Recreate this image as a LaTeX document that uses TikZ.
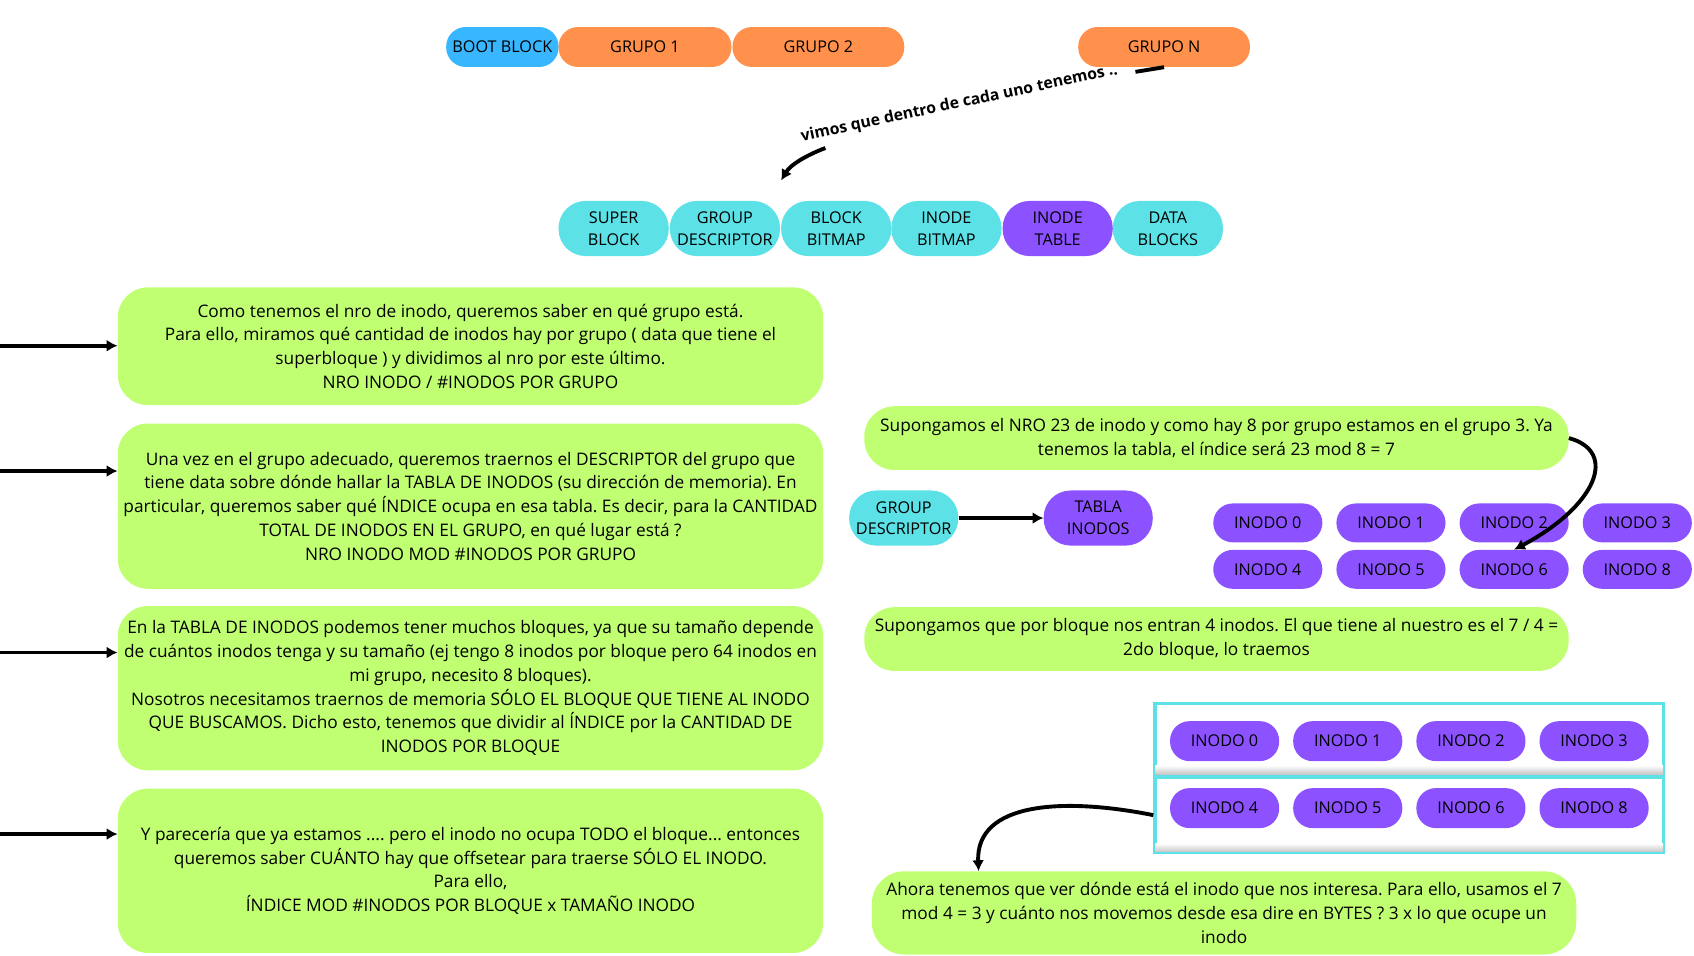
\documentclass[tikz,border=0pt]{standalone}
\usepackage{fontspec}
\setmainfont{Open Sans}
\usepackage{tikz}
\usetikzlibrary{arrows.meta}
\frenchspacing

\definecolor{BootBlue}{HTML}{38B6FF}
\definecolor{GrupoOrange}{HTML}{FF914D}
\definecolor{BlockCyan}{HTML}{5CE1E6}
\definecolor{InodePurple}{HTML}{8C52FF}
\definecolor{NoteGreen}{HTML}{C1FF72}

\newcommand{\pillfont}{\fontsize{15}{20}\selectfont}
\newcommand{\notefont}{\fontsize{16}{22}\selectfont}

\tikzset{
    pill/.style={rounded corners=18pt, minimum height=37pt, inner sep=0pt, align=center, font=\pillfont},
    tallpill/.style={rounded corners=25pt, minimum width=102pt, minimum height=51pt, inner sep=0pt, align=center, font=\pillfont},
    inodo/.style={pill, fill=InodePurple, minimum width=101pt},
    note/.style={fill=NoteGreen, rounded corners=28pt, minimum width=653pt, inner sep=0pt, align=center, font=\notefont},
    flow/.style={-{Latex[length=10pt, width=11pt]}, line width=3.6pt},
    blockrow/.style={draw=BlockCyan, line width=3pt, minimum width=471pt, inner sep=0pt},
}

\begin{document}
\begin{tikzpicture}[x=1pt, y=-1pt]
        \useasboundingbox (0, 0) rectangle (1568, 884);

        \node[pill, fill=BootBlue, minimum width=104pt] (boot) at (465, 43.5) {BOOT BLOCK};
        \node[pill, fill=GrupoOrange, minimum width=160pt] (g1) at (597, 43.5) {GRUPO 1};
        \node[pill, fill=GrupoOrange, minimum width=159pt] (g2) at (757.5, 43.5) {GRUPO 2};
        \node[pill, fill=GrupoOrange, minimum width=159pt] (gn) at (1077.5, 43.5) {GRUPO N};

        \node[tallpill, fill=BlockCyan] (sb) at (568, 211.5) {SUPER\\BLOCK};
        \node[tallpill, fill=BlockCyan] (gd) at (671, 211.5) {GROUP\\DESCRIPTOR};
        \node[tallpill, fill=BlockCyan] (bb) at (774, 211.5) {BLOCK\\BITMAP};
        \node[tallpill, fill=BlockCyan] (ib) at (876, 211.5) {INODE\\BITMAP};
        \node[tallpill, fill=InodePurple] (it) at (979, 211.5) {INODE\\TABLE};
        \node[tallpill, fill=BlockCyan] (db) at (1081, 211.5) {DATA\\BLOCKS};

        \coordinate (vimosA) at (1051, 66.5);
        \coordinate (vimosB) at (764, 137);
        \coordinate (vimosC) at (723, 167);
        \draw[line width=3.6pt] (gn.south) -- (vimosA);
        \node[rotate=12, font=\bfseries\fontsize{14.6}{16}\selectfont] (vimos) at (888, 96) {vimos que dentro de cada uno tenemos ..};
        \draw[flow] (vimosB) .. controls (748, 143) and (732, 152) .. (vimosC);

        \node[note, minimum height=109pt] (paso1) at (435.5, 320.5) {Como tenemos el nro de inodo, queremos saber en qué grupo está.\\
            Para ello, miramos qué cantidad de inodos hay por grupo ( data que tiene el\\
            superbloque ) y dividimos al nro por este último.\\
            NRO INODO / \#INODOS POR GRUPO};
        \node[note, minimum height=153pt] (paso2) at (435.5, 468.5) {Una vez en el grupo adecuado, queremos traernos el DESCRIPTOR del grupo que\\
            tiene data sobre dónde hallar la TABLA DE INODOS (su dirección de memoria). En\\
            particular, queremos saber qué ÍNDICE ocupa en esa tabla. Es decir, para la CANTIDAD\\
            TOTAL DE INODOS EN EL GRUPO, en qué lugar está ?\\
            NRO INODO MOD \#INODOS POR GRUPO};
        \node[note, minimum height=152pt] (paso3) at (435.5, 637) {En la TABLA DE INODOS podemos tener muchos bloques, ya que su tamaño depende\\
            de cuántos inodos tenga y su tamaño (ej tengo 8 inodos por bloque pero 64 inodos en\\
            mi grupo, necesito 8 bloques).\\
            Nosotros necesitamos traernos de memoria SÓLO EL BLOQUE QUE TIENE AL INODO\\
            QUE BUSCAMOS. Dicho esto, tenemos que dividir al ÍNDICE por la CANTIDAD DE\\
            INODOS POR BLOQUE};
        \node[note, minimum height=152pt] (paso4) at (435.5, 806) {Y parecería que ya estamos .... pero el inodo no ocupa TODO el bloque... entonces\\
            queremos saber CUÁNTO hay que offsetear para traerse SÓLO EL INODO.\\
            Para ello,\\
            ÍNDICE MOD \#INODOS POR BLOQUE x TAMAÑO INODO};

        \coordinate (in1) at (0, 320);
        \coordinate (in2) at (0, 436);
        \coordinate (in3) at (0, 604);
        \coordinate (in4) at (0, 772);
        \draw[flow] (in1) -- (in1 -| paso1.west);
        \draw[flow] (in2) -- (in2 -| paso2.west);
        \draw[flow] (in3) -- (in3 -| paso3.west);
        \draw[flow] (in4) -- (in4 -| paso4.west);

        \node[note, minimum width=652pt, minimum height=59pt] (ej1) at (1126, 405.5) {Supongamos el NRO 23 de inodo y como hay 8 por grupo estamos en el grupo 3. Ya\\
            tenemos la tabla, el índice será 23 mod 8 = 7};

        \node[tallpill, fill=BlockCyan, minimum width=101pt] (gd2) at (836.5, 479.5) {GROUP\\DESCRIPTOR};
        \node[tallpill, fill=InodePurple, minimum width=101pt] (tabla) at (1016.5, 479.5) {TABLA\\INODOS};
        \draw[flow] (gd2) -- (tabla);

        \node[inodo, minimum height=36pt] (t0) at (1173.5, 484) {INODO 0};
        \node[inodo, minimum height=36pt] (t1) at (1287.5, 484) {INODO 1};
        \node[inodo, minimum height=36pt] (t2) at (1401.5, 484) {INODO 2};
        \node[inodo, minimum height=36pt] (t3) at (1515.5, 484) {INODO 3};
        \node[inodo, minimum height=36pt] (t4) at (1173.5, 527) {INODO 4};
        \node[inodo, minimum height=36pt] (t5) at (1287.5, 527) {INODO 5};
        \node[inodo, minimum height=36pt] (t6) at (1401.5, 527) {INODO 6};
        \node[inodo, minimum height=36pt] (t8) at (1515.5, 527) {INODO 8};

        \draw[flow] (ej1.east) .. controls (1498, 418) and (1478, 468) .. (t6.north);

        \node[note, minimum width=652pt, minimum height=59pt] (ej2) at (1126, 591.5) {Supongamos que por bloque nos entran 4 inodos. El que tiene al nuestro es el 7 / 4 =\\
            2do bloque, lo traemos};

        \node[blockrow, minimum height=66pt] (fila1) at (1304.5, 684) {};
        \node[blockrow, minimum height=69pt] (fila2) at (1304.5, 754.5) {};
        \shade[top color=white, bottom color=black!22] ([shift={(2, -10)}]fila1.south west) rectangle ([shift={(-2, -2)}]fila1.south east);
        \shade[top color=white, bottom color=black!22] ([shift={(2, -10)}]fila2.south west) rectangle ([shift={(-2, -2)}]fila2.south east);

        \node[inodo] (b0) at (1133.5, 686) {INODO 0};
        \node[inodo] (b1) at (1247.5, 686) {INODO 1};
        \node[inodo] (b2) at (1361.5, 686) {INODO 2};
        \node[inodo] (b3) at (1475.5, 686) {INODO 3};
        \node[inodo] (b4) at (1133.5, 748) {INODO 4};
        \node[inodo] (b5) at (1247.5, 748) {INODO 5};
        \node[inodo] (b6) at (1361.5, 748) {INODO 6};
        \node[inodo] (b8) at (1475.5, 748) {INODO 8};

        \node[note, minimum width=652pt, minimum height=77pt, rounded corners=30pt] (ej3) at (1133, 845) {Ahora tenemos que ver dónde está el inodo que nos interesa. Para ello, usamos el 7\\
            mod 4 = 3 y cuánto nos movemos desde esa dire en BYTES ? 3 x lo que ocupe un\\
            inodo};

        \draw[flow] (fila2.west) .. controls (985, 738) and (903, 742) .. ([xshift=99pt]ej3.north west);

    \end{tikzpicture}
\end{document}
